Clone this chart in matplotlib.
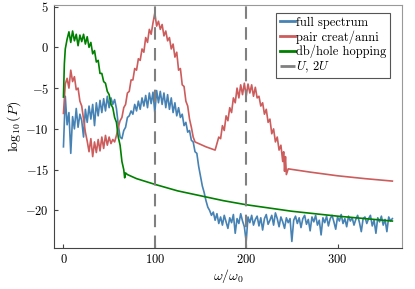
import numpy as np
import matplotlib
matplotlib.use('Agg')
import matplotlib.pyplot as plt

# Computer Modern look (cmr10 ships with matplotlib)
plt.rcParams['font.family'] = 'serif'
plt.rcParams['font.serif'] = ['cmr10']
plt.rcParams['mathtext.fontset'] = 'cm'
plt.rcParams['axes.formatter.use_mathtext'] = True

# full spectrum, sampled every 2 units of omega/omega_0 from 0 to 360
full = [-12.2, -6.0, -9.5, -8.0, -13.0, -8.5, -10.0, -7.5, -9.8, -8.2,
        -9.0, -11.0, -7.6, -9.2, -7.2, -8.8, -7.0, -9.6, -6.8, -8.4,
        -6.5, -8.0, -6.3, -7.8, -6.0, -7.4, -6.2, -7.0, -6.4, -7.5,
        -9.5, -11.0, -11.2, -10.2, -9.8, -8.6, -8.4, -7.8, -8.2, -7.0,
        -7.8, -6.6, -7.6, -6.2, -7.2, -5.9, -7.4, -5.6, -6.9, -5.5,
        -8.0, -5.3, -6.8, -5.4, -7.0, -5.6, -7.4, -5.8, -7.6, -6.2,
        -8.0, -6.8, -8.4, -7.4, -8.6, -8.2, -9.6, -9.2, -10.4, -10.2,
        -11.4, -11.6, -12.8, -13.0, -14.6, -15.8, -17.0, -17.8, -18.8, -19.6,
        -20.0, -20.6, -20.2, -21.2, -20.4, -21.6, -20.8, -21.8, -20.6, -21.4,
        -22.2, -20.9, -21.5, -20.5, -22.8, -21.0, -21.6, -20.4, -21.3, -22.0,
        -23.8, -20.8, -21.5, -20.6, -21.8, -21.1, -20.7, -21.9, -20.9, -22.4,
        -21.0, -20.5, -21.7, -21.2, -20.6, -21.8, -20.3, -21.0, -22.0, -20.8,
        -21.4, -22.2, -20.9, -21.5, -21.0, -23.8, -21.2, -20.7, -21.6, -20.9,
        -22.1, -21.0, -20.6, -21.7, -21.1, -22.5, -20.8, -21.4, -20.6, -21.8,
        -21.2, -23.0, -20.9, -21.5, -20.7, -21.9, -21.0, -20.6, -21.4, -22.3,
        -20.8, -21.3, -20.5, -21.6, -21.0, -22.0, -20.7, -21.3, -20.9, -21.8,
        -21.1, -20.6, -21.5, -22.6, -21.0, -20.8, -21.6, -21.0, -20.6, -21.9,
        -21.2, -22.8, -20.9, -21.4, -20.7, -21.8, -21.1, -22.6, -20.8, -21.3,
        -21.0]
full_w = np.arange(len(full)) * 2

# pair creation / annihilation
pair_w = [0, 2, 4, 6, 8, 10, 12, 14, 16, 18, 20, 22, 24, 26, 28, 30, 32, 34, 36, 38,
          40, 42, 44, 46, 48, 50, 52, 54, 56, 58, 60, 62, 64, 66, 68, 70, 72, 74, 76, 78,
          80, 82, 84, 86, 88, 90, 92, 94, 96, 98, 100, 102, 104, 106, 108, 110, 112, 114, 116, 118,
          120, 122, 124, 126, 128, 130, 132, 134, 136, 138, 140, 142, 144, 156, 166,
          168, 170, 172, 174, 176, 178, 180, 182, 184, 186, 188, 190, 192, 194, 196, 198,
          200, 202, 204, 206, 208, 210, 212, 214, 216, 218, 220, 222, 224, 226, 228, 230,
          232, 234, 236, 238, 240, 241, 242, 243, 244, 246, 270, 300, 330, 360]
pair = [-8.1, -4.5, -3.8, -5.0, -2.8, -4.2, -3.6, -5.2, -5.0, -6.6, -7.2, -8.8, -10.4, -11.5, -12.8, -11.2, -13.4, -11.6, -12.9, -11.3,
        -12.7, -11.0, -12.4, -10.8, -12.0, -11.0, -11.8, -11.3, -11.6, -10.8, -9.8, -9.0, -8.6, -7.4, -7.0, -5.6, -5.4, -4.0, -4.0, -2.6,
        -2.8, -1.4, -1.6, -0.2, -0.6, 1.2, 0.6, 2.2, 1.6, 3.0, 4.2, 2.6, 3.2, 2.2, 2.8, 1.4, 2.0, 0.8, 1.2, -0.2,
        0.4, -1.2, -0.6, -2.8, -2.6, -4.6, -4.8, -6.6, -7.2, -8.8, -9.8, -11.0, -11.6, -12.2, -12.6,
        -11.8, -11.0, -11.2, -9.6, -10.2, -8.4, -9.0, -7.4, -8.0, -6.2, -6.8, -5.0, -6.2, -4.6, -5.8, -4.4,
        -6.0, -4.5, -5.6, -4.6, -6.0, -4.9, -6.2, -6.0, -7.2, -6.8, -8.2, -7.6, -9.2, -8.8, -10.6, -10.0,
        -11.6, -11.0, -12.6, -12.0, -14.0, -12.8, -15.2, -13.4, -15.6, -14.9, -15.3, -15.75, -16.1, -16.4]

# doublon/holon hopping
hop_w = [0, 1, 2, 4, 6, 8, 10, 12, 14, 16, 18, 20, 22, 24, 26, 28, 30, 32, 34, 36,
         38, 40, 42, 44, 46, 48, 50, 52, 54, 56, 58, 60, 62, 64, 66, 67, 68, 70,
         80, 100, 125, 150, 175, 200, 225, 250, 275, 300, 330, 360]
hop = [-6.1, -2.0, -0.2, 1.0, 1.9, 0.6, 2.0, 0.8, 1.6, 0.2, 1.5, 0.7, 1.6, 0.4, 1.3, 0.0, 0.6, -0.8, -0.4, -1.8,
       -1.6, -3.2, -3.2, -4.2, -4.4, -5.4, -5.8, -7.0, -7.4, -8.6, -9.2, -11.0, -12.0, -14.0, -15.0, -16.0, -15.4, -15.6,
       -16.1, -16.8, -17.6, -18.2, -18.8, -19.3, -19.7, -20.1, -20.4, -20.7, -21.0, -21.3]

U_lines = [100, 200]

fig = plt.figure(figsize=(4.15, 2.89), dpi=100)
ax = fig.add_axes([0.130, 0.142, 0.839, 0.841])

ax.plot(full_w, full, color='#4682b4', lw=1.2, label='full spectrum')
ax.plot(pair_w, pair, color='#cd5c5c', lw=1.2, label='pair creat/anni')
ax.plot(hop_w, hop, color='#008000', lw=1.2, label='db/hole hopping')
for i, u in enumerate(U_lines):
    ax.axvline(u, color='#808080', lw=1.5, dashes=(6, 4),
               label=r'$U$, $2U$' if i == 0 else None)

ax.set_xlim(-10.4, 370.7)
ax.set_ylim(-24.6, 5.2)
ax.set_xticks([0, 100, 200, 300])
ax.set_yticks([5, 0, -5, -10, -15, -20])
ax.set_xlabel(r'$\omega/\omega_0$', fontsize=10, labelpad=1)
ax.set_ylabel(r'$\log_{10}(P)$', fontsize=10, labelpad=2)
ax.tick_params(direction='in', length=3, width=0.8, labelsize=9, color='#444444')
for s in ['left', 'bottom']:
    ax.spines[s].set_color('#444444')
for s in ['top', 'right']:
    ax.spines[s].set_color('#999999')

leg = ax.legend(loc='upper right', bbox_to_anchor=(0.966, 0.967), borderaxespad=0,
                fontsize=9, fancybox=False, edgecolor='#555555', framealpha=1,
                handlelength=1.2, handletextpad=0.1, labelspacing=0.1, borderpad=0.3)
leg.get_frame().set_linewidth(0.8)
for h in leg.get_lines():
    h.set_linewidth(2.0)

fig.savefig('out.png', dpi=100)
